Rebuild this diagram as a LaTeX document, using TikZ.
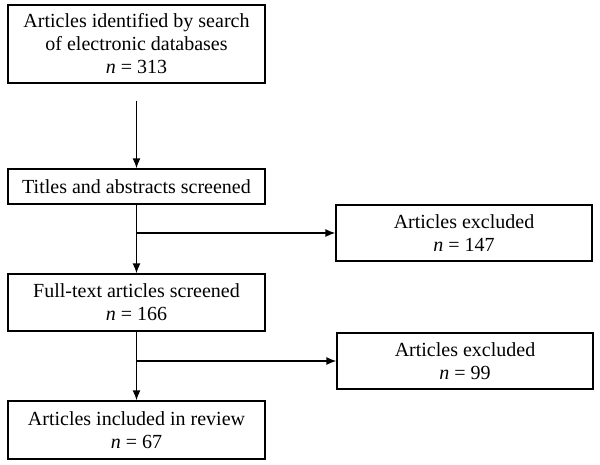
\documentclass[tikz,border=0pt]{standalone}
\usepackage{fontspec}
\setmainfont{Liberation Serif}
\usetikzlibrary{arrows.meta}

\tikzset{
  box/.style={draw, line width=1.1pt, align=center, inner sep=2pt,
    font=\fontsize{20}{23}\selectfont},
  flow/.style={line width=1.6pt, -{Latex[length=10pt,width=8pt]}}
}

\begin{document}
\begin{tikzpicture}[x=1pt,y=-1pt]
\useasboundingbox (0,0) rectangle (600,464);
%% left column
\node[box, minimum width=257pt, minimum height=78pt] (search) at (136.5,44)
  {Articles identified by search\\of electronic databases\\\textit{n} = 313};
\node[box, minimum width=257pt, minimum height=35pt] (titles) at (136.5,186.5)
  {Titles and abstracts screened};
\node[box, minimum width=257pt, minimum height=57pt] (fulltext) at (136.5,302.5)
  {Full-text articles screened\\\textit{n} = 166};
\node[box, minimum width=257pt, minimum height=58pt] (included) at (136.5,430)
  {Articles included in review\\\textit{n} = 67};
%% right column
\node[box, minimum width=256pt, minimum height=56pt] (excl1) at (464,233)
  {Articles excluded\\\textit{n} = 147};
\node[box, minimum width=256pt, minimum height=56pt] (excl2) at (465,361)
  {Articles excluded\\\textit{n} = 99};
%% connectors
\coordinate (split1) at (titles.south |- excl1.west);
\coordinate (split2) at (fulltext.south |- excl2.west);
\draw[flow, shorten <=17pt] (search.south) -- (titles.north);
\draw[flow] (titles.south) -- (fulltext.north);
\draw[flow] (split1) -- (excl1.west);
\draw[flow] (fulltext.south) -- (included.north);
\draw[flow] (split2) -- (excl2.west);
\end{tikzpicture}
\end{document}
